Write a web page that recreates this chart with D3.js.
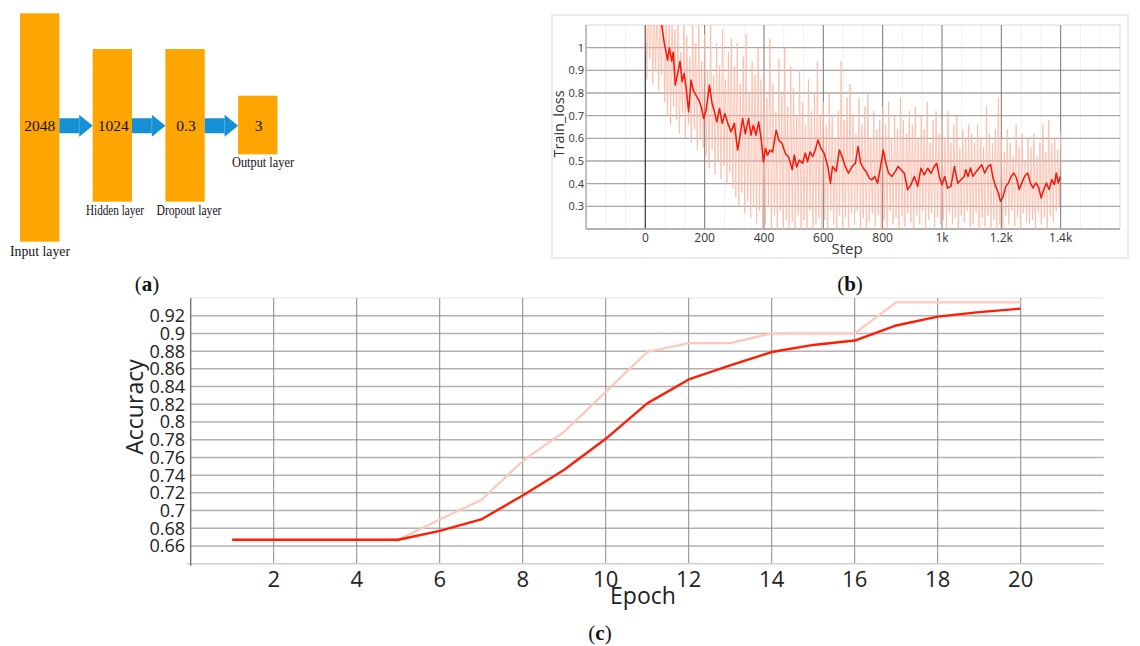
<!DOCTYPE html>
<html><head><meta charset="utf-8">
<script src="https://cdn.jsdelivr.net/npm/d3@7"></script>
<style>body{margin:0;background:#fff}svg{display:block}</style>
</head><body>
<svg id="fig" width="1140" height="646"></svg>
<script>
// ---------------- DATA ----------------
// (a) network diagram
const layerNames = ["Input layer", "Hidden layer", "Dropout layer", "Output layer"];
const layerUnits = ["2048", "1024", "0.3", "3"];

// (b) training loss
const lossXTicks = [0, 200, 400, 600, 800, 1000, 1200, 1400];
const lossYTicks = [0.3, 0.4, 0.5, 0.6, 0.7, 0.8, 0.9, 1.0];
const rawLoss = [
 1.25,0.86,1.18,0.95,1.3,0.84,1.12,0.9,1.22,0.81,1.15,0.88,1.28,0.76,1.1,0.7,1.2,0.66,1.16,0.74,
 1.08,0.68,1.14,0.62,0.98,0.71,1.12,0.6,1.05,0.66,0.96,0.58,1.1,0.64,1.02,0.55,1.15,0.6,0.94,0.56,
 1.06,0.52,0.9,0.47,1.1,0.55,0.88,0.44,1.02,0.5,0.92,0.42,1.08,0.48,0.86,0.4,0.98,0.45,1.04,0.38,
 0.92,0.34,1.02,0.3,0.84,0.36,0.96,0.27,1.06,0.32,0.8,0.25,0.94,0.3,0.88,0.22,1.0,0.28,0.86,0.19,
 0.9,0.22,0.78,0.3,1.04,0.18,0.84,0.26,0.72,0.2,0.95,0.28,0.8,0.15,1.0,0.24,0.74,0.19,0.92,0.23,
 0.82,0.2,0.7,0.26,0.9,0.18,0.76,0.24,0.66,0.2,0.86,0.28,0.72,0.16,0.8,0.22,0.94,0.25,0.7,0.2,
 0.76,0.24,0.66,0.2,0.8,0.28,0.7,0.22,0.6,0.18,0.72,0.26,0.94,0.21,0.68,0.25,0.78,0.19,0.84,0.27,
 0.7,0.22,0.62,0.28,0.78,0.2,0.66,0.25,0.74,0.18,0.8,0.23,0.6,0.27,0.72,0.21,0.64,0.26,0.68,0.2,
 0.74,0.24,0.66,0.2,0.76,0.28,0.6,0.22,0.7,0.25,0.64,0.19,0.78,0.26,0.68,0.21,0.62,0.27,0.72,0.23,
 0.66,0.2,0.74,0.26,0.6,0.22,0.7,0.28,0.64,0.2,0.76,0.24,0.58,0.27,0.68,0.21,0.72,0.25,0.62,0.22,
 0.68,0.24,0.6,0.2,0.72,0.27,0.58,0.22,0.66,0.25,0.7,0.2,0.56,0.26,0.64,0.23,0.6,0.28,0.66,0.21,
 0.62,0.22,0.58,0.27,0.66,0.2,0.6,0.25,0.56,0.21,0.74,0.26,0.62,0.2,0.58,0.24,0.64,0.19,0.78,0.22,
 0.6,0.2,0.54,0.26,0.64,0.22,0.58,0.28,0.52,0.21,0.66,0.25,0.56,0.2,0.62,0.27,0.5,0.23,0.6,0.22,
 0.56,0.24,0.62,0.2,0.52,0.27,0.58,0.22,0.66,0.25,0.54,0.2,0.68,0.26,0.58,0.23,0.6,0.28,0.55,0.3,
 0.63
];
const rawSteps = d3.range(0, 1401, 5);
const smoothSteps = [0,15,30,45,55,64,75,81,89,94,101,109,117,124,131,137,146,154,162,171,180,188,197,205,216,225,233,241,250,259,268,278,289,300,311,317,328,337,348,356,364,373,382,391,398,405,412,420,429,441,450,461,472,483,495,502,510,519,530,539,547,555,564,573,582,592,603,615,624,631,643,654,663,674,685,697,708,717,726,735,744,755,764,773,783,793,802,811,820,831,843,852,862,873,884,895,907,918,929,940,952,963,974,982,991,1000,1009,1019,1030,1042,1053,1064,1075,1080,1088,1096,1104,1116,1125,1134,1144,1155,1164,1172,1181,1190,1197,1206,1215,1224,1233,1242,1251,1260,1269,1278,1289,1298,1307,1316,1325,1334,1343,1352,1361,1370,1379,1385,1392,1399];
const smoothLoss = [1.16,1.2,1.14,1.12,1.1,1.02,0.945,1.0,0.94,0.98,0.835,0.887,0.94,0.85,0.887,0.828,0.717,0.857,0.81,0.79,0.77,0.74,0.688,0.725,0.835,0.754,0.717,0.673,0.732,0.666,0.71,0.666,0.629,0.666,0.548,0.592,0.688,0.62,0.688,0.614,0.658,0.614,0.673,0.592,0.496,0.555,0.526,0.548,0.54,0.636,0.592,0.577,0.533,0.518,0.462,0.526,0.474,0.504,0.49,0.535,0.497,0.54,0.52,0.549,0.593,0.556,0.534,0.476,0.402,0.476,0.454,0.549,0.52,0.476,0.446,0.476,0.49,0.564,0.49,0.468,0.454,0.424,0.417,0.432,0.402,0.476,0.549,0.49,0.446,0.432,0.454,0.476,0.461,0.446,0.373,0.395,0.432,0.388,0.468,0.439,0.468,0.446,0.476,0.49,0.432,0.395,0.432,0.38,0.388,0.476,0.402,0.417,0.432,0.462,0.432,0.469,0.432,0.454,0.469,0.484,0.447,0.476,0.484,0.425,0.388,0.359,0.322,0.344,0.388,0.403,0.432,0.447,0.425,0.374,0.403,0.432,0.447,0.403,0.381,0.403,0.388,0.337,0.374,0.403,0.374,0.418,0.396,0.447,0.403,0.432];

// (c) accuracy
const epochs = [1,2,3,4,5,6,7,8,9,10,11,12,13,14,15,16,17,18,19,20];
const accMain = [0.667,0.667,0.667,0.667,0.667,0.677,0.690,0.717,0.746,0.781,0.821,0.848,0.864,0.879,0.887,0.892,0.909,0.919,0.924,0.928];
const accRaw  = [0.667,0.667,0.667,0.667,0.667,0.690,0.712,0.756,0.789,0.834,0.879,0.889,0.889,0.900,0.900,0.900,0.935,0.935,0.935,0.935];
const accXTicks = [2,4,6,8,10,12,14,16,18,20];
const accYTicks = [0.66,0.68,0.7,0.72,0.74,0.76,0.78,0.8,0.82,0.84,0.86,0.88,0.9,0.92];

// ---------------- DRAW ----------------
const svg = d3.select("#fig");
const sans = "'Open Sans', 'Noto Sans', sans-serif";
const serif = "'Liberation Serif', 'DejaVu Serif', serif";

// ===== Panel (a) =====
(function(){
  const g = svg.append("g");
  const xb = d3.scaleBand().domain(layerNames).range([20, 277.4]).paddingInner(0.459).paddingOuter(0);
  const tops = [13.3, 49, 49, 95.7];
  const heights = [228.4, 152.7, 152.7, 58.6];
  const cy = 125.7;
  g.selectAll("rect.layer").data(layerNames).join("rect")
    .attr("x", d => xb(d)).attr("y", (d,i) => tops[i])
    .attr("width", xb.bandwidth()).attr("height", (d,i) => heights[i])
    .attr("fill", "#ffa500");
  for (let i = 0; i < layerNames.length - 1; i++) {
    const x0 = xb(layerNames[i]) + xb.bandwidth();
    const x1 = xb(layerNames[i+1]);
    const hx = x1 - 13.5;
    const p = `M${x0},${cy-7.5}L${hx},${cy-7.5}L${hx},${cy-11}L${x1},${cy}L${hx},${cy+11}L${hx},${cy+7.5}L${x0},${cy+7.5}Z`;
    g.append("path").attr("d", p).attr("fill", "#1590d4");
    g.append("line").attr("x1", hx).attr("x2", hx).attr("y1", cy-7.5).attr("y2", cy+7.5)
      .attr("stroke", "#5fb4e4").attr("stroke-width", 0.8);
  }
  g.selectAll("text.units").data(layerUnits).join("text")
    .attr("x", (d,i) => xb(layerNames[i]) + xb.bandwidth()/2 + (i===0?0:1))
    .attr("y", cy + 5)
    .attr("text-anchor", "middle")
    .attr("font-family", serif).attr("font-size", 15.5).attr("fill", "#111")
    .text(d => d);
  const lblX = [40, 115, 189, 263];
  const lblY = [256, 215, 215, 167];
  const lblW = [60, 58, 65, 62];
  const lblS = [15.5, 14, 14, 14];
  g.selectAll("text.lbl").data(layerNames).join("text")
    .attr("x", (d,i) => lblX[i]).attr("y", (d,i) => lblY[i])
    .attr("text-anchor", "middle")
    .attr("font-family", serif).attr("font-size", (d,i) => lblS[i]).attr("fill", "#111")
    .attr("textLength", (d,i) => lblW[i]).attr("lengthAdjust", "spacingAndGlyphs")
    .text(d => d);
})();

function panelLabel(x, y, letter) {
  const t = svg.append("text").attr("x", x).attr("y", y).attr("text-anchor", "middle")
    .attr("font-family", serif).attr("font-size", 21).attr("fill", "#111");
  t.append("tspan").text("(");
  t.append("tspan").attr("font-weight", "bold").text(letter);
  t.append("tspan").text(")");
}
panelLabel(147, 291, "a");
panelLabel(850, 291, "b");
panelLabel(600, 640, "c");

// ===== Panel (b) =====
(function(){
  const g = svg.append("g");
  g.append("rect").attr("x", 552).attr("y", 15).attr("width", 576).attr("height", 243)
    .attr("fill", "none").attr("stroke", "#ececec").attr("stroke-width", 2);
  const x = d3.scaleLinear().domain([-200, 1600]).range([586, 1120]);
  const y = d3.scaleLinear().domain([0.2, 1.1]).range([229, 25]);
  const minor = d3.range(-200, 1600, 200/3);
  g.selectAll("line.minor").data(minor).join("line")
    .attr("x1", d => x(d)).attr("x2", d => x(d)).attr("y1", y(1.1)).attr("y2", y(0.2))
    .attr("stroke", "#f1f1f1").attr("stroke-width", 1);
  g.append("line").attr("x1", x(-200)).attr("x2", x(1600)).attr("y1", y(1.1)).attr("y2", y(1.1))
    .attr("stroke", "#dcdcdc").attr("stroke-width", 1.2);
  g.append("line").attr("x1", x(1600)).attr("x2", x(1600)).attr("y1", y(1.1)).attr("y2", y(0.2))
    .attr("stroke", "#e0e0e0").attr("stroke-width", 1.2);
  g.selectAll("line.hg").data(lossYTicks).join("line")
    .attr("x1", x(-200)).attr("x2", x(1600)).attr("y1", d => y(d)).attr("y2", d => y(d))
    .attr("stroke", "#a8a8a8").attr("stroke-width", 1.4);
  g.selectAll("line.vg").data(lossXTicks).join("line")
    .attr("x1", d => x(d)).attr("x2", d => x(d)).attr("y1", y(1.1)).attr("y2", y(0.2))
    .attr("stroke", d => d === 0 ? "#444" : "#7a7a7a").attr("stroke-width", d => d === 0 ? 1.3 : 1);
  g.append("line").attr("x1", x(-200)).attr("x2", x(1600)).attr("y1", y(0.2)).attr("y2", y(0.2))
    .attr("stroke", "#9a9a9a").attr("stroke-width", 1.4);
  g.append("line").attr("x1", x(-200)).attr("x2", x(-200)).attr("y1", y(1.1)).attr("y2", y(0.2))
    .attr("stroke", "#9a9a9a").attr("stroke-width", 1.2);
  svg.append("clipPath").attr("id", "clipb").append("rect")
    .attr("x", x(-200)).attr("y", y(1.1)).attr("width", x(1600) - x(-200)).attr("height", y(0.2) - y(1.1));
  const lineRaw = d3.line().x((d,i) => x(rawSteps[i])).y(d => y(d));
  g.append("path").datum(rawLoss).attr("d", lineRaw).attr("clip-path", "url(#clipb)")
    .attr("fill", "none").attr("stroke", "#ffb7a2").attr("stroke-opacity", 0.8).attr("stroke-width", 1);
  const lineS = d3.line().x((d,i) => x(smoothSteps[i])).y(d => y(d));
  g.append("path").datum(smoothLoss).attr("d", lineS).attr("clip-path", "url(#clipb)")
    .attr("fill", "none").attr("stroke", "#f4170a").attr("stroke-width", 1.5).attr("stroke-linejoin", "round");
  const fmtX = d => d >= 1000 ? (d/1000) + "k" : String(d);
  g.selectAll("text.xt").data(lossXTicks).join("text")
    .attr("x", d => x(d)).attr("y", 242).attr("text-anchor", "middle")
    .attr("font-family", sans).attr("font-size", 12).attr("fill", "#333").text(fmtX);
  g.selectAll("text.yt").data(lossYTicks).join("text")
    .attr("x", 584).attr("y", d => y(d) + 4).attr("text-anchor", "end")
    .attr("font-family", sans).attr("font-size", 11).attr("fill", "#333").text(d3.format("~g"));
  g.append("text").attr("x", 847).attr("y", 254).attr("text-anchor", "middle")
    .attr("font-family", sans).attr("font-size", 15).attr("fill", "#333").text("Step");
  g.append("text").attr("transform", "translate(564,124) rotate(-90)").attr("text-anchor", "middle")
    .attr("font-family", sans).attr("font-size", 14.5).attr("fill", "#333").text("Train_loss");
})();

// ===== Panel (c) =====
(function(){
  const g = svg.append("g");
  const x = d3.scaleLinear().domain([0, 22]).range([190.7, 1103.7]);
  const y = d3.scaleLinear().domain([0.64, 0.94]).range([563.7, 298]);
  g.append("line").attr("x1", x(0)).attr("x2", x(22)).attr("y1", y(0.94)).attr("y2", y(0.94))
    .attr("stroke", "#e2e2e2").attr("stroke-width", 1.2);
  g.selectAll("line.hg").data(accYTicks).join("line")
    .attr("x1", x(0)).attr("x2", x(22)).attr("y1", d => y(d)).attr("y2", d => y(d))
    .attr("stroke", "#b2b2b2").attr("stroke-width", 1.5);
  g.selectAll("line.vg").data(accXTicks).join("line")
    .attr("x1", d => x(d)).attr("x2", d => x(d)).attr("y1", y(0.94)).attr("y2", y(0.64))
    .attr("stroke", "#8a8a8a").attr("stroke-width", 1);
  g.append("line").attr("x1", x(0) - 4).attr("x2", x(22)).attr("y1", y(0.64)).attr("y2", y(0.64))
    .attr("stroke", "#cfcfcf").attr("stroke-width", 1.5);
  g.append("line").attr("x1", x(0)).attr("x2", x(0)).attr("y1", y(0.94)).attr("y2", y(0.64) + 2)
    .attr("stroke", "#6e6e6e").attr("stroke-width", 1.3);
  const line = d3.line().x((d,i) => x(epochs[i])).y(d => y(d));
  g.append("path").datum(accRaw).attr("d", line)
    .attr("fill", "none").attr("stroke", "#ffc7bb").attr("stroke-width", 2.2).attr("stroke-linejoin", "round");
  g.append("path").datum(accMain).attr("d", line)
    .attr("fill", "none").attr("stroke", "#ff1d05").attr("stroke-width", 2.4).attr("stroke-linejoin", "round");
  g.selectAll("text.yt").data(accYTicks).join("text")
    .attr("x", 185).attr("y", d => y(d) + 6.5).attr("text-anchor", "end")
    .attr("font-family", sans).attr("font-size", 18).attr("fill", "#222").text(d3.format("~g"));
  g.selectAll("text.xt").data(accXTicks).join("text")
    .attr("x", d => x(d)).attr("y", 587).attr("text-anchor", "middle")
    .attr("font-family", sans).attr("font-size", 22).attr("fill", "#222").text(d => d);
  g.append("text").attr("x", 643).attr("y", 604).attr("text-anchor", "middle")
    .attr("font-family", sans).attr("font-size", 23).attr("fill", "#222").text("Epoch");
  g.append("text").attr("transform", "translate(143,407) rotate(-90)").attr("text-anchor", "middle")
    .attr("font-family", sans).attr("font-size", 23).attr("fill", "#222").text("Accuracy");
})();
</script>
</body></html>
